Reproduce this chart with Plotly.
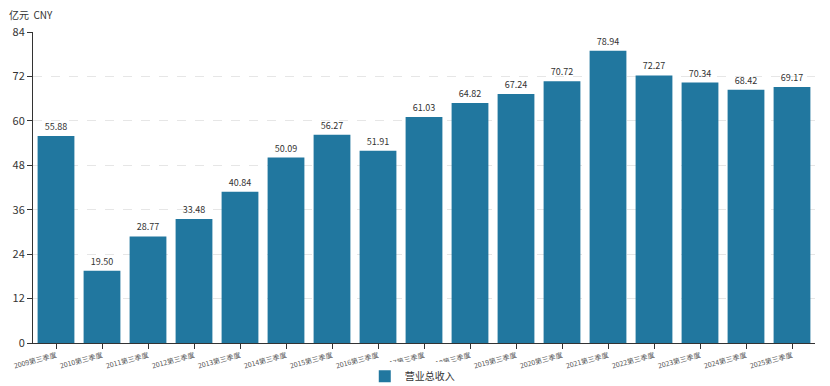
import plotly.graph_objects as go

categories = [f"{y}第三季度" for y in range(2009, 2026)]
values = [55.88, 19.50, 28.77, 33.48, 40.84, 50.09, 56.27, 51.91, 61.03,
          64.82, 67.24, 70.72, 78.94, 72.27, 70.34, 68.42, 69.17]
series_name = "营业总收入"
y_ticks = [0, 12, 24, 36, 48, 60, 72, 84]

fig = go.Figure()
fig.add_trace(go.Bar(
    x=categories, y=values, name=series_name,
    marker=dict(color="#21779f", line=dict(width=0)),
    text=[f"{v:.2f}" for v in values], textposition="outside",
    textfont=dict(size=9, color="#333"), cliponaxis=False,
))
fig.update_layout(
    width=830, height=386,
    margin=dict(l=33, r=15, t=32, b=43, pad=0, autoexpand=False),
    plot_bgcolor="white", paper_bgcolor="white",
    font=dict(family="Noto Sans CJK SC, sans-serif", color="#333"),
    bargap=0.2,
    showlegend=True,
    legend=dict(orientation="h", x=0.485, xanchor="center", y=0.025,
                yref="container", yanchor="middle", font=dict(size=10)),
    xaxis=dict(showline=True, linecolor="#333", linewidth=1, ticks="outside",
               ticklen=5, tickcolor="#333", tickangle=-15, automargin=False,
               tickfont=dict(size=7, color="#555"), showgrid=False),
    yaxis=dict(range=[0, 84], tickvals=y_ticks, showline=True, linecolor="#333",
               linewidth=1, ticks="outside", ticklen=5, tickcolor="#333", automargin=False,
               tickfont=dict(size=11, color="#333"), showgrid=True,
               gridcolor="#e6e6e6", griddash="dash", zeroline=False),
    annotations=[dict(text="亿元  CNY", xref="paper", yref="paper", x=-0.033, y=1.027,
                      xanchor="left", yanchor="bottom", showarrow=False,
                      font=dict(size=10, color="#333"))],
)
fig.write_html("out.html", config={"displayModeBar": False},
               post_script="document.body.style.margin='0';document.body.style.overflow='hidden';")
